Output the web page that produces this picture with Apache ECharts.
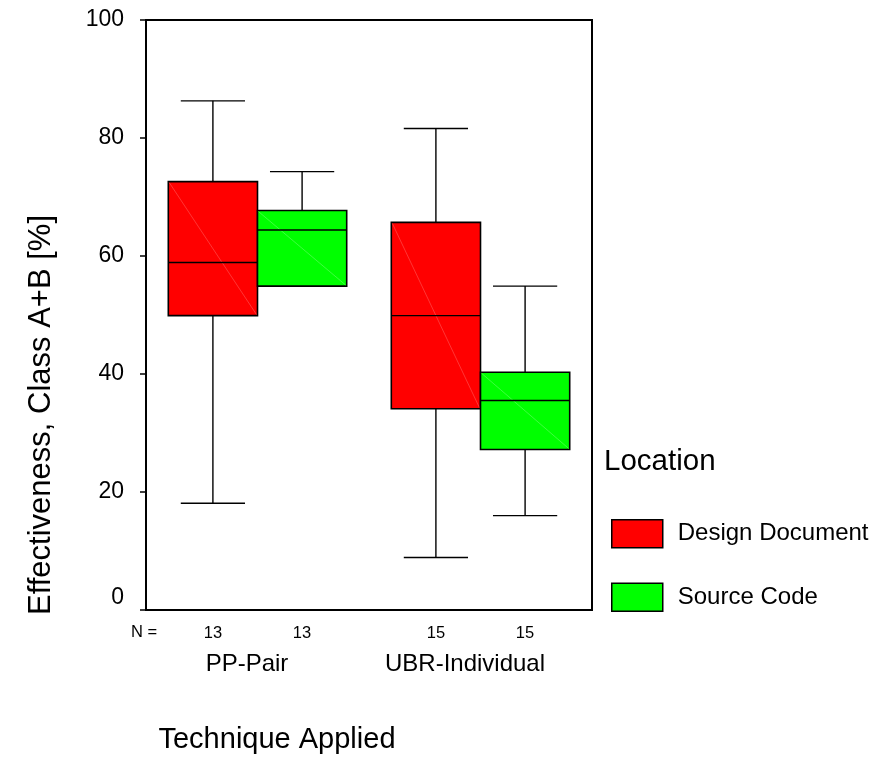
<!DOCTYPE html>
<html>
<head>
<meta charset="utf-8">
<title>Effectiveness, Class A+B</title>
<script src="https://cdn.jsdelivr.net/npm/echarts@6/dist/echarts.min.js"></script>
<style>
  html, body { margin: 0; padding: 0; background: #fff; }
  #chart { width: 885px; height: 757px; }
</style>
</head>
<body>
<div id="chart"></div>
<script>
// values
const categories = ['PP-Pair', 'UBR-Individual'];
const seriesNames = ['Design Document', 'Source Code'];
// [min, Q1, median, Q3, max]
const designDoc = [[18.1, 49.9, 58.9, 72.6, 86.3], [8.9, 34.1, 49.9, 65.7, 81.6]];
const sourceCode = [[54.9, 54.9, 64.4, 67.7, 74.3], [16.0, 27.2, 35.5, 40.3, 54.9]];
const nDesign = [13, 15];
const nSource = [13, 15];

const FONT = '"Liberation Sans", Arial, sans-serif';
const colors = ['#ff0000', '#00ff00'];
const diagColors = ['#ff6a6a', '#7aff7a'];

function toRows(stats) {
  return stats.map((s, i) => [i].concat(s));
}

function renderBox(params, api) {
  let cat = api.value(0);
  let band = api.size([1, 0])[0];
  let w = band * 0.4;
  let cx = api.coord([cat, 0])[0] + (params.seriesIndex === 0 ? -w / 2 : w / 2);
  let y = [1, 2, 3, 4, 5].map(d => api.coord([cat, api.value(d)])[1]);
  let x0 = cx - w / 2, x1 = cx + w / 2, cap = w * 0.36;
  let line = { stroke: '#000', lineWidth: 1.4 };
  let kids = [];
  // whiskers
  if (y[0] - y[1] > 0.5) {
    kids.push({ type: 'line', shape: { x1: cx, y1: y[1], x2: cx, y2: y[0] }, style: line });
    kids.push({ type: 'line', shape: { x1: cx - cap, y1: y[0], x2: cx + cap, y2: y[0] }, style: line });
  }
  if (y[3] - y[4] > 0.5) {
    kids.push({ type: 'line', shape: { x1: cx, y1: y[3], x2: cx, y2: y[4] }, style: line });
    kids.push({ type: 'line', shape: { x1: cx - cap, y1: y[4], x2: cx + cap, y2: y[4] }, style: line });
  }
  // box
  kids.push({
    type: 'rect',
    shape: { x: x0, y: y[3], width: w, height: y[1] - y[3] },
    style: { fill: colors[params.seriesIndex], stroke: '#000', lineWidth: 1.6 }
  });
  kids.push({
    type: 'line',
    shape: { x1: x0 + 1, y1: y[3] + 1, x2: x1 - 1, y2: y[1] - 1 },
    style: { stroke: diagColors[params.seriesIndex], lineWidth: 0.5 }
  });
  kids.push({ type: 'line', shape: { x1: x0, y1: y[2], x2: x1, y2: y[2] }, style: line });
  return { type: 'group', children: kids };
}

let options = {
  animation: false,
  grid: {
    left: 146, right: 293, top: 20, bottom: 147,
    show: true, borderColor: '#000', borderWidth: 2, backgroundColor: 'transparent'
  },
  legend: {
    orient: 'vertical',
    left: 606, top: 514,
    itemWidth: 51, itemHeight: 28, itemGap: 34,
    selectedMode: false,
    textStyle: { fontFamily: FONT, fontSize: 24, color: '#000', padding: [0, 0, 0, 10] },
    data: seriesNames.map((n, i) => ({
      name: n, icon: 'rect',
      itemStyle: { color: colors[i], borderColor: '#000', borderWidth: 1.5 }
    }))
  },
  xAxis: {
    type: 'category',
    data: categories,
    axisLine: { lineStyle: { color: '#000', width: 2 } },
    axisTick: { alignWithLabel: true, length: 7, lineStyle: { color: '#000', width: 1.5 } },
    axisLabel: {
      interval: 0,
      margin: 12,
      color: '#000',
      fontFamily: FONT,
      formatter: function (value, idx) {
        return '{n|' + nDesign[idx] + '}{n|' + nSource[idx] + '}\n{c' + idx + '|' + value + '}';
      },
      rich: {
        n: { width: 89, align: 'center', fontSize: 16.5, lineHeight: 22, fontFamily: FONT, color: '#000' },
        c0: { fontSize: 24, lineHeight: 40, fontFamily: FONT, color: '#000', padding: [0, 21, 0, 0] },
        c1: { fontSize: 24, lineHeight: 40, fontFamily: FONT, color: '#000', padding: [0, 31, 0, 0] }
      }
    },
    splitLine: { show: false }
  },
  yAxis: {
    type: 'value',
    min: 0, max: 100, interval: 20,
    axisLine: { show: true, lineStyle: { color: '#000', width: 2 } },
    axisTick: { show: true, length: 6, lineStyle: { color: '#000', width: 1.5 } },
    axisLabel: {
      margin: 22,
      fontSize: 23,
      color: '#000',
      fontFamily: FONT,
      formatter: function (v) {
        return v === 0 ? '{z|0}' : String(v);
      },
      rich: {
        z: { fontSize: 23, fontFamily: FONT, color: '#000', padding: [0, 0, 24, 0] }
      }
    },
    splitLine: { show: false }
  },
  graphic: [
    {
      type: 'text', x: 41, y: 415, rotation: Math.PI / 2,
      style: {
        text: 'Effectiveness, Class A+B [%]', fontSize: 31, fontFamily: FONT, fill: '#000',
        align: 'center', verticalAlign: 'middle'
      }
    },
    {
      type: 'text', x: 277, y: 740,
      style: {
        text: 'Technique Applied', fontSize: 29, fontFamily: FONT, fill: '#000',
        align: 'center', verticalAlign: 'middle'
      }
    },
    {
      type: 'text', x: 604, y: 462,
      style: {
        text: 'Location', fontSize: 29.5, fontFamily: FONT, fill: '#000',
        align: 'left', verticalAlign: 'middle'
      }
    },
    {
      type: 'text', x: 144, y: 632,
      style: {
        text: 'N =', fontSize: 16.5, fontFamily: FONT, fill: '#000',
        align: 'center', verticalAlign: 'middle'
      }
    }
  ],
  series: [
    {
      type: 'custom', name: seriesNames[0],
      renderItem: renderBox,
      encode: { x: 0, y: [1, 2, 3, 4, 5] },
      itemStyle: { color: colors[0] },
      data: toRows(designDoc)
    },
    {
      type: 'custom', name: seriesNames[1],
      renderItem: renderBox,
      encode: { x: 0, y: [1, 2, 3, 4, 5] },
      itemStyle: { color: colors[1] },
      data: toRows(sourceCode)
    }
  ]
};

let container = document.getElementById('chart');
let myChart = echarts.init(container);
myChart.setOption(options);
window.addEventListener('resize', () => { myChart.resize(); });
</script>
</body>
</html>
